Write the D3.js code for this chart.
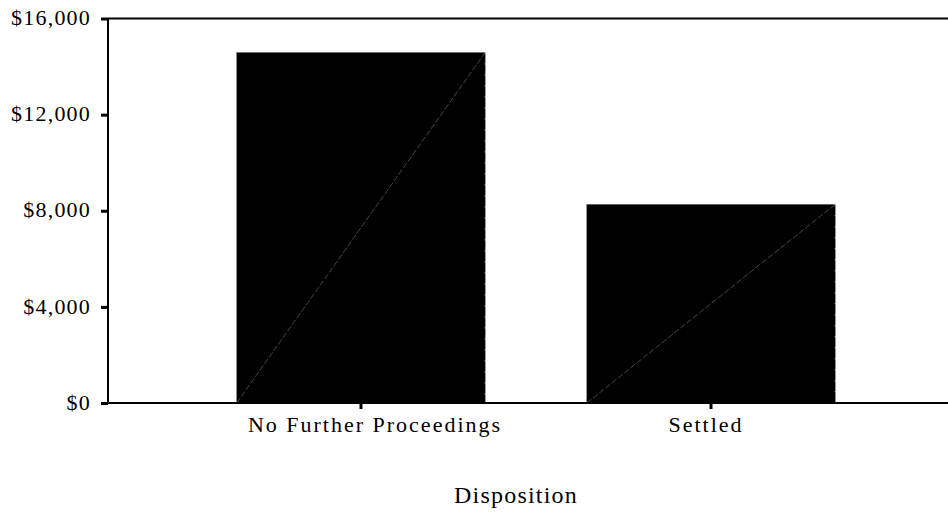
<!DOCTYPE html>
<html><head><meta charset="utf-8">
<script src="https://cdn.jsdelivr.net/npm/d3@7"></script>
<style>body{margin:0;background:#fff}svg{display:block}text{font-family:"Liberation Serif","Times New Roman",serif;fill:#000}</style>
</head><body><svg id="c" width="948" height="514"></svg>
<script>
const categories = ["No Further Proceedings", "Settled"];
const values = [14590, 8270];
const yTicks = [0, 4000, 8000, 12000, 16000];
const xTitle = "Disposition";

const svg = d3.select("#c");
const m = {l:108, t:18.5, r:948, b:403};
const y = d3.scaleLinear().domain([0,16000]).range([m.b, m.t]);
const x = d3.scaleBand().domain(categories).range([m.l+16, m.r]).paddingInner(0.29).paddingOuter(0.322);

const fmt = v => "$" + d3.format(",")(v);

// bars
const g = svg.append("g");
categories.forEach((c,i)=>{
  const x0 = x(c), w = x.bandwidth(), yt = y(values[i]);
  g.append("rect").attr("x",x0).attr("y",yt).attr("width",w).attr("height",m.b-yt)
   .attr("fill","#000").attr("stroke","#777").attr("stroke-width",0.6);
  g.append("line").attr("x1",x0).attr("y1",m.b).attr("x2",x0+w).attr("y2",yt)
   .attr("stroke","#666").attr("stroke-width",0.7).attr("stroke-dasharray","6,2");
  g.append("line").attr("x1",x0+w).attr("y1",yt).attr("x2",x0+w).attr("y2",m.b)
   .attr("stroke","#fff").attr("stroke-width",1).attr("stroke-dasharray","1,10");
});

// frame
svg.append("line").attr("x1",m.l).attr("x2",m.r).attr("y1",m.t).attr("y2",m.t).attr("stroke","#000").attr("stroke-width",2);
const yAxis = d3.axisLeft(y).tickValues(yTicks).tickFormat(fmt).tickSize(7).tickPadding(10);
const ya = svg.append("g").attr("transform",`translate(${m.l},0)`).call(yAxis);
ya.attr("font-size",null).attr("font-family",null);
ya.select(".domain").attr("stroke","#000").attr("stroke-width",2).attr("d",`M0,${m.t}V${m.b}`);
ya.selectAll(".tick line").attr("stroke","#000").attr("stroke-width",3);
ya.selectAll(".tick text").style("font-size","22px").attr("dy","0.28em").attr("letter-spacing","1.2px");

const xAxis = d3.axisBottom(x).tickSize(6).tickPadding(7);
const xa = svg.append("g").attr("transform",`translate(0,${m.b})`).call(xAxis);
xa.attr("font-size",null).attr("font-family",null);
xa.select(".domain").attr("stroke","#000").attr("stroke-width",2).attr("d",`M${m.l},0H${m.r}`);
xa.selectAll(".tick line").attr("stroke","#000").attr("stroke-width",3);
const labelShift = [14, -5];
xa.selectAll(".tick text").style("font-size","22px").attr("letter-spacing","2px")
  .attr("dx",(d,i)=>labelShift[i]);

svg.append("text").attr("x",516).attr("y",503).attr("text-anchor","middle")
  .style("font-size","24px").attr("letter-spacing","1.2px").text(xTitle);
</script></body></html>
